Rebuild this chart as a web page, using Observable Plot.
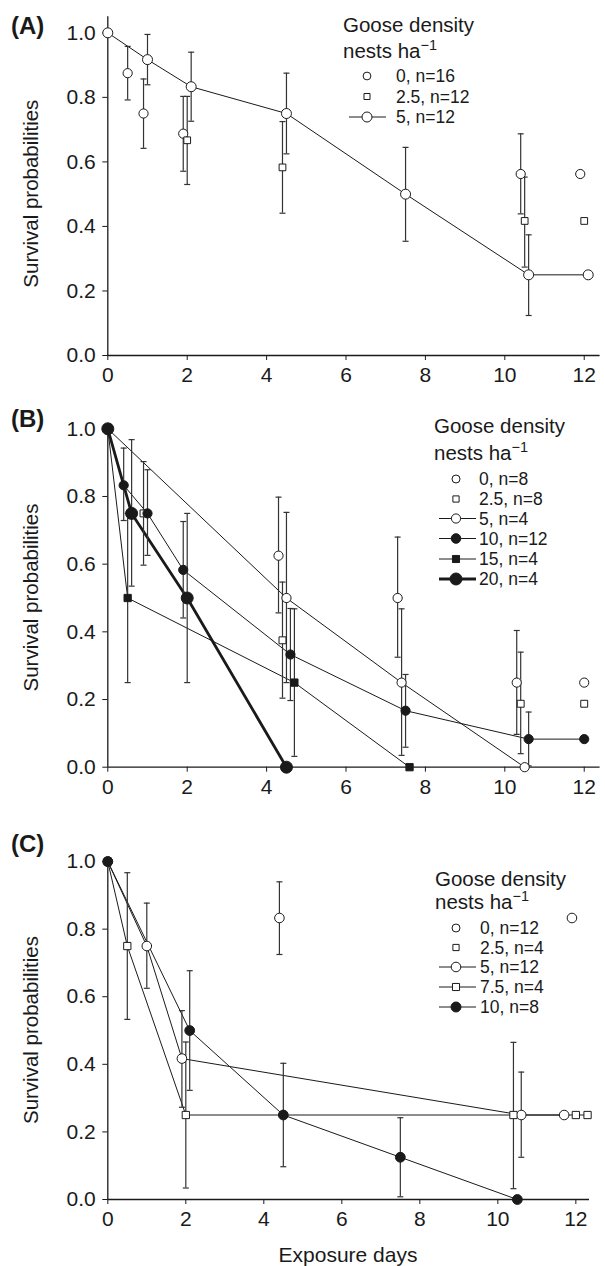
<!DOCTYPE html>
<html><head><meta charset="utf-8">
<script src="https://cdn.jsdelivr.net/npm/d3@7"></script>
<script src="https://cdn.jsdelivr.net/npm/@observablehq/plot@0.6"></script>
<style>
body{margin:0;background:#fff;}
#fig{position:relative;width:605px;height:1266px;font-family:"Liberation Sans",Arial,Helvetica,sans-serif;}
#fig svg{position:absolute;left:0;}
</style></head><body><div id="fig"></div>
<script>
// ---------- data ----------
const xTicks = [0, 2, 4, 6, 8, 10, 12];
const yTicks = [0, 0.2, 0.4, 0.6, 0.8, 1.0];
// each row: [exposure days, survival probability, lower bar, upper bar]
// Panel A
const A_0  = [[0.5,0.875,0.792,0.958],[0.9,0.75,0.642,0.857],[1.9,0.6875,0.571,0.803],[10.4,0.5625,0.439,0.687],[11.9,0.5625,null,null]];
const A_25 = [[2.0,0.667,0.530,0.803],[4.4,0.583,0.441,0.725],[10.5,0.417,0.274,0.553],[12.0,0.417,null,null]];
const A_5  = [[0,1.0,null,null],[1.0,0.917,0.839,0.995],[2.1,0.833,0.726,0.94],[4.5,0.75,0.625,0.875],[7.5,0.5,0.354,0.645],[10.6,0.25,0.124,0.374],[12.1,0.25,null,null]];
const A_labels = ["0, n=16", "2.5, n=12", "5, n=12"];
// Panel B
const B_0  = [[4.3,0.625,0.456,0.798],[7.3,0.5,0.325,0.68],[10.3,0.25,0.097,0.404],[12.0,0.25,null,null]];
const B_25 = [[0.9,0.75,0.597,0.903],[4.4,0.375,0.204,0.547],[10.4,0.1875,0.04,0.34],[12.0,0.1875,null,null]];
const B_5  = [[0,1.0,null,null],[4.5,0.5,0.25,0.753],[7.4,0.25,0.035,0.468],[10.5,0,null,null]];
const B_10 = [[0,1.0,null,null],[0.4,0.833,0.729,0.943],[1.0,0.75,0.626,0.879],[1.9,0.583,0.441,0.726],[4.6,0.333,0.197,0.469],[7.5,0.167,0.059,0.274],[10.6,0.083,0.004,0.163],[12.0,0.083,null,null]];
const B_15 = [[0,1.0,null,null],[0.5,0.5,0.25,0.75],[4.7,0.25,0.032,0.468],[7.6,0,null,null]];
const B_20 = [[0,1.0,null,null],[0.6,0.75,0.535,0.968],[2.0,0.5,0.25,0.75],[4.5,0,null,null]];
const B_labels = ["0, n=8", "2.5, n=8", "5, n=4", "10, n=12", "15, n=4", "20, n=4"];
// Panel C
const C_0  = [[4.4,0.833,0.725,0.94],[11.9,0.833,null,null]];
const C_25 = [[12.0,0.25,null,null]];
const C_5  = [[0,1.0,null,null],[1.0,0.75,0.625,0.877],[1.9,0.417,0.273,0.559],[10.6,0.25,0.125,0.377],[11.7,0.25,null,null]];
const C_75 = [[0,1.0,null,null],[0.5,0.75,0.533,0.967],[2.0,0.25,0.034,0.466],[10.4,0.25,0.032,0.465],[12.3,0.25,null,null]];
const C_10 = [[0,1.0,null,null],[2.1,0.5,0.323,0.677],[4.5,0.25,0.097,0.403],[7.5,0.125,0.008,0.242],[10.5,0,null,null]];
const C_labels = ["0, n=12", "2.5, n=4", "5, n=12", "7.5, n=4", "10, n=8"];

// ---------- styles ----------
const FONT = '"Liberation Sans", Arial, Helvetica, sans-serif';
const INK = "#1a1a1a";
const openC = {shape: "circle", fill: "white"};
const openS = {shape: "square", fill: "white"};
const fillC = {shape: "circle", fill: INK};
const fillS = {shape: "square", fill: INK};

const panels = [
  {top: 0, height: 410, mt: 16.2, mb: 55, mr: 5.4, xMax: 12.4, yMax: 1.05, tag: "(A)", tagY: 34,
   legend: {tx: 343, t1: 32, t2: 58, sx: 367, lx0: 349, lx1: 386, textX: 396, rows: [82, 102.5, 123]},
   series: [
    {data: A_0, ...openC, r: 4.6, line: false, label: A_labels[0], lr: 3.9},
    {data: A_25, ...openS, r: 3.8, line: false, label: A_labels[1], lr: 3.4},
    {data: A_5, ...openC, r: 5, line: true, lw: 1, label: A_labels[2], lr: 5}
   ]},
  {top: 410, height: 420, mt: 18.3, mb: 63.3, mr: 5.4, xMax: 12.4, yMax: 1.0, tag: "(B)", tagY: 427,
   legend: {tx: 434, t1: 433, t2: 460, sx: 456, lx0: 439, lx1: 476, textX: 479, rows: [485, 505, 524.5, 544.5, 565, 585]},
   series: [
    {data: B_0, ...openC, r: 4.6, line: false, label: B_labels[0], lr: 4},
    {data: B_25, ...openS, r: 3.9, line: false, label: B_labels[1], lr: 3.5},
    {data: B_5, ...openC, r: 4.6, line: true, lw: 1, label: B_labels[2], lr: 4.6},
    {data: B_10, ...fillC, r: 4.6, line: true, lw: 1, label: B_labels[3], lr: 4.8},
    {data: B_15, ...fillS, r: 4.1, line: true, lw: 1, label: B_labels[4], lr: 4},
    {data: B_20, ...fillC, r: 6, line: true, lw: 2.8, label: B_labels[5], lr: 6}
   ]},
  {top: 830, height: 436, mt: 27, mb: 67, mr: 16, xMax: 12.35, yMax: 1.012, tag: "(C)", tagY: 852,
   legend: {tx: 435, t1: 885.5, t2: 909, sx: 456, lx0: 439, lx1: 476, textX: 480, rows: [934, 953.5, 973, 993, 1013]},
   series: [
    {data: C_0, ...openC, r: 4.8, line: false, label: C_labels[0], lr: 4},
    {data: C_25, ...openS, r: 4.1, line: false, label: C_labels[1], lr: 3.5},
    {data: C_5, ...openC, r: 4.8, line: true, lw: 1, label: C_labels[2], lr: 4.8},
    {data: C_75, ...openS, r: 4.1, line: true, lw: 1, label: C_labels[3], lr: 4},
    {data: C_10, ...fillC, r: 4.9, line: true, lw: 1, label: C_labels[4], lr: 5}
   ]}
];

// horizontal cap symbol for error bars
const cap = {draw(ctx) { ctx.moveTo(-3, 0); ctx.lineTo(3, 0); }};

const fig = document.getElementById("fig");

for (const p of panels) {
  const marks = [
    Plot.ruleY([0], {stroke: INK, strokeWidth: 1.3}),
    Plot.ruleX([0], {stroke: INK, strokeWidth: 1.3}),
    Plot.axisX(xTicks, {tickSize: 5, tickPadding: 7, fontSize: 21, label: null, tickFormat: d => String(d)}),
    Plot.axisY(yTicks, {tickSize: 5, tickPadding: 7, fontSize: 21, label: null, tickFormat: d3.format(".1f")})
  ];
  for (const s of p.series) if (s.line)
    marks.push(Plot.line(s.data, {x: d => d[0], y: d => d[1], stroke: INK, strokeWidth: s.lw}));
  for (const s of p.series) {
    const eb = s.data.filter(d => d[2] != null);
    marks.push(Plot.ruleX(eb, {x: d => d[0], y1: d => d[2], y2: d => d[3], stroke: "#333", strokeWidth: 1.2}));
    marks.push(Plot.dot(eb, {x: d => d[0], y: d => d[2], symbol: cap, r: 3, stroke: "#333", strokeWidth: 1.2, fill: "none"}));
    marks.push(Plot.dot(eb, {x: d => d[0], y: d => d[3], symbol: cap, r: 3, stroke: "#333", strokeWidth: 1.2, fill: "none"}));
  }
  for (const s of p.series)
    marks.push(Plot.dot(s.data, {x: d => d[0], y: d => d[1], symbol: s.shape, r: s.r, fill: s.fill, stroke: INK, strokeWidth: 1}));

  const svg = Plot.plot({
    width: 605, height: p.height,
    marginLeft: 107.3, marginRight: p.mr, marginTop: p.mt, marginBottom: p.mb,
    x: {domain: [0, p.xMax]},
    y: {domain: [0, p.yMax]},
    style: {fontFamily: FONT, color: INK, background: "transparent", overflow: "visible"},
    marks
  });
  svg.style.top = p.top + "px";
  fig.appendChild(svg);
}

// ---------- overlay texts & legends ----------
const ov = d3.select("#fig").append("svg")
  .attr("width", 605).attr("height", 1266)
  .style("top", "0px").style("pointer-events", "none")
  .attr("font-family", FONT).attr("fill", INK);

for (const p of panels) {
  ov.append("text").attr("x", 11).attr("y", p.tagY).attr("font-weight", "bold").attr("font-size", 24).text(p.tag);
  const y0 = p.top + p.height - p.mb, y1 = y0 - (p.height - p.mb - p.mt) / p.yMax;
  ov.append("text").attr("transform", `translate(38,${(y0 + y1) / 2}) rotate(-90)`)
    .attr("text-anchor", "middle").attr("font-size", 20.5).text("Survival probabilities");
  const L = p.legend;
  ov.append("text").attr("x", L.tx).attr("y", L.t1).attr("font-size", 20.5).text("Goose density");
  const t2 = ov.append("text").attr("x", L.tx).attr("y", L.t2).attr("font-size", 20.5);
  t2.append("tspan").text("nests ha");
  t2.append("tspan").attr("dy", -8).attr("font-size", 14.5).text("\u22121");
  p.series.forEach((s, i) => {
    const by = L.rows[i], sy = by - 6;
    if (s.line) ov.append("line").attr("x1", L.lx0).attr("x2", L.lx1).attr("y1", sy).attr("y2", sy)
      .attr("stroke", INK).attr("stroke-width", s.lw > 2 ? 3 : 1);
    const area = Math.PI * s.lr * s.lr;
    ov.append("path").attr("transform", `translate(${L.sx},${sy})`)
      .attr("d", d3.symbol(s.shape === "circle" ? d3.symbolCircle : d3.symbolSquare, area)())
      .attr("fill", s.fill).attr("stroke", INK).attr("stroke-width", 1);
    ov.append("text").attr("x", L.textX).attr("y", by).attr("font-size", 17.5)
      .attr("textLength", null).text(s.label);
  });
}
ov.append("text").attr("x", 348).attr("y", 1261.5).attr("text-anchor", "middle").attr("font-size", 21).text("Exposure days");
</script></body></html>
